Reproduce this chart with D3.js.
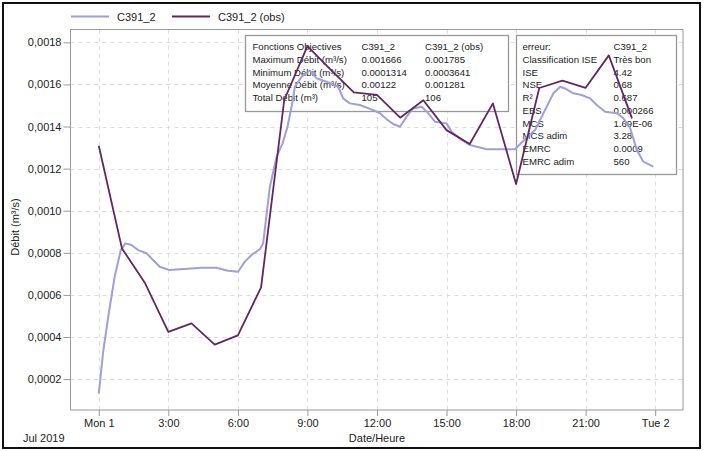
<!DOCTYPE html>
<html><head><meta charset="utf-8">
<script src="https://cdn.jsdelivr.net/npm/d3@7"></script>
<style>
html,body{margin:0;padding:0;background:#fff;}
text{font-family:"Liberation Sans",Arial,sans-serif;fill:#222;}
</style></head>
<body><svg id="c" width="704" height="451"></svg>
<script>
// ---- data ----
const seriesNames = ["C391_2", "C391_2 (obs)"];
const obsHours = [0,1,2,3,4,5,6,7,8,9,10,11,12,13,14,15,16,17,18,19,20,21,22,23];
const obsValues = [0.001309,0.000821,0.000655,0.000424,0.000465,0.000364,0.000408,0.000636,
  0.001526,0.001782,0.001670,0.001562,0.001550,0.001442,0.001525,0.001383,0.001317,0.001510,
  0.001127,0.001583,0.001618,0.001584,0.001738,0.001439];
const simHours = [0,0.19,0.42,0.69,0.95,1.15,1.41,1.70,2.06,2.34,2.63,3.06,3.50,4.0,4.43,5.08,5.58,6.01,
  6.30,6.59,6.95,7.09,7.38,7.67,7.93,8.14,8.33,8.46,8.75,9.11,9.40,9.83,10.33,10.54,10.83,11.26,11.84,
  12.13,12.42,12.70,12.99,13.28,13.56,13.93,14.21,14.50,15.0,15.22,15.65,16.01,16.73,17.31,17.95,18.3,
  18.82,18.96,19.32,19.61,19.90,20.11,20.47,20.83,21.19,21.48,21.84,22.34,22.63,22.92,23.21,23.49,23.92];
const simValues = [0.000131,0.000330,0.000505,0.000690,0.000813,0.000845,0.000837,0.000813,0.000798,0.000766,
  0.000734,0.000718,0.000722,0.000726,0.000729,0.000729,0.000715,0.000710,0.000758,0.000790,0.000817,0.000845,
  0.001114,0.001257,0.001320,0.001399,0.001502,0.001589,0.001637,0.001666,0.001629,0.001613,0.001589,0.001534,
  0.001510,0.001502,0.001478,0.001463,0.001434,0.001412,0.001399,0.001447,0.001486,0.001494,0.001463,0.001423,
  0.001415,0.001375,0.001336,0.001312,0.001292,0.001292,0.001292,0.001330,0.001383,0.001415,0.001494,0.001558,
  0.001589,0.001581,0.001558,0.001550,0.001534,0.001502,0.001470,0.001463,0.001439,0.001393,0.001288,0.001233,0.001209];
const yTicks = [0.0002,0.0004,0.0006,0.0008,0.0010,0.0012,0.0014,0.0016,0.0018];
const yTickLabels = ["0,0002","0,0004","0,0006","0,0008","0,0010","0,0012","0,0014","0,0016","0,0018"];
const xTicks = [0,3,6,9,12,15,18,21,24];
const xTickLabels = ["Mon 1","3:00","6:00","9:00","12:00","15:00","18:00","21:00","Tue 2"];
const statLabels = ["Fonctions Objectives","Maximum Débit (m³/s)","Minimum Débit (m³/s)","Moyenne Débit (m³/s)","Total Débit (m³)"];
const statSim = ["C391_2","0.001666","0.0001314","0.00122","105"];
const statObs = ["C391_2 (obs)","0.001785","0.0003641","0.001281","106"];
const errLabels = ["erreur:","Classification ISE","ISE","NSE","R²","EBS","MCS","MCS adim","EMRC","EMRC adim"];
const errValues = ["C391_2","Très bon","4.42","0.68","0.687","0.000266","1.69E-06","3.28","0.0009","560"];

// ---- layout ----
const svg = d3.select("#c");
const L = 70.5, R = 683, T = 29.5, B = 410;
const x = d3.scaleLinear().domain([-1.22, 25.2]).range([L, R]);
const y = d3.scaleLinear().domain([0.0000532, 0.001861]).range([B, T]);
const colSim = "#a09fd6", colObs = "#5d2a5f";

svg.append("rect").attr("x",3).attr("y",3).attr("width",697).attr("height",445)
  .attr("fill","#fff").attr("stroke","#111").attr("stroke-width",2);

// grid
const g = svg.append("g");
g.selectAll(".hg").data(yTicks).join("line")
  .attr("x1",L).attr("x2",R).attr("y1",d=>Math.round(y(d))+0.5).attr("y2",d=>Math.round(y(d))+0.5)
  .attr("stroke","#ddd").attr("stroke-dasharray","4,4");
g.selectAll(".vg").data(xTicks).join("line")
  .attr("y1",T).attr("y2",B).attr("x1",d=>Math.round(x(d))+0.5).attr("x2",d=>Math.round(x(d))+0.5)
  .attr("stroke","#ddd").attr("stroke-dasharray","4,4");

// axes
const yAxis = d3.axisLeft(y).tickValues(yTicks).tickFormat((d,i)=>yTickLabels[i]).tickSize(7).tickPadding(2);
const ya = svg.append("g").attr("transform",`translate(${L},0)`).call(yAxis);
const xAxis = d3.axisBottom(x).tickValues(xTicks).tickFormat((d,i)=>xTickLabels[i]).tickSize(6).tickPadding(3);
const xa = svg.append("g").attr("transform",`translate(0,${B})`).call(xAxis);
[ya,xa].forEach(a=>{
  a.select(".domain").remove();
  a.selectAll(".tick line").attr("stroke","#999");
  a.selectAll(".tick text").style("font-family","'Liberation Sans',Arial,sans-serif").style("font-size","11px").attr("fill","#222");
});
svg.append("rect").attr("x",L).attr("y",T).attr("width",R-L).attr("height",B-T)
  .attr("fill","none").attr("stroke","#999").attr("stroke-width",1);

svg.append("text").attr("x",377).attr("y",442).attr("text-anchor","middle").style("font-size","11px").text("Date/Heure");
svg.append("text").attr("x",23).attr("y",442).style("font-size","11px").text("Jul 2019");
svg.append("text").attr("transform","translate(19,227) rotate(-90)").attr("text-anchor","middle")
  .style("font-size","11px").text("Débit (m³/s)");

// tables
function table(x0,y0,w,h,cols,colX){
  const tg = svg.append("g");
  tg.append("rect").attr("x",x0+0.5).attr("y",y0+0.5).attr("width",w).attr("height",h)
    .attr("fill","#fff").attr("stroke","#999").attr("stroke-width",1.3);
  cols.forEach((col,ci)=>{
    tg.selectAll(null).data(col).join("text").attr("x",colX[ci]).attr("y",(d,i)=>y0+15+i*12.75)
      .style("font-size","9.6px").text(d=>d);
  });
}
table(245,35,263,76,[statLabels,statSim,statObs],[252.5,361.5,425]);
table(516,35,160,139,[errLabels,errValues],[522.5,613.5]);

// lines
const lineGen = d3.line().x(d=>x(d[0])).y(d=>y(d[1]));
svg.append("path").datum(simHours.map((h,i)=>[h,simValues[i]])).attr("d",lineGen)
  .attr("fill","none").attr("stroke",colSim).attr("stroke-width",2).attr("stroke-linejoin","round");
svg.append("path").datum(obsHours.map((h,i)=>[h,obsValues[i]])).attr("d",lineGen)
  .attr("fill","none").attr("stroke",colObs).attr("stroke-width",1.8).attr("stroke-linejoin","round");

// legend
const lg = svg.append("g");
const legX = [71,172];
seriesNames.forEach((n,i)=>{
  lg.append("line").attr("x1",legX[i]).attr("x2",legX[i]+38).attr("y1",16.5).attr("y2",16.5)
    .attr("stroke",i===0?colSim:colObs).attr("stroke-width",2);
  lg.append("text").attr("x",legX[i]+46).attr("y",20.5).style("font-size","11px").text(n);
});
</script></body></html>
